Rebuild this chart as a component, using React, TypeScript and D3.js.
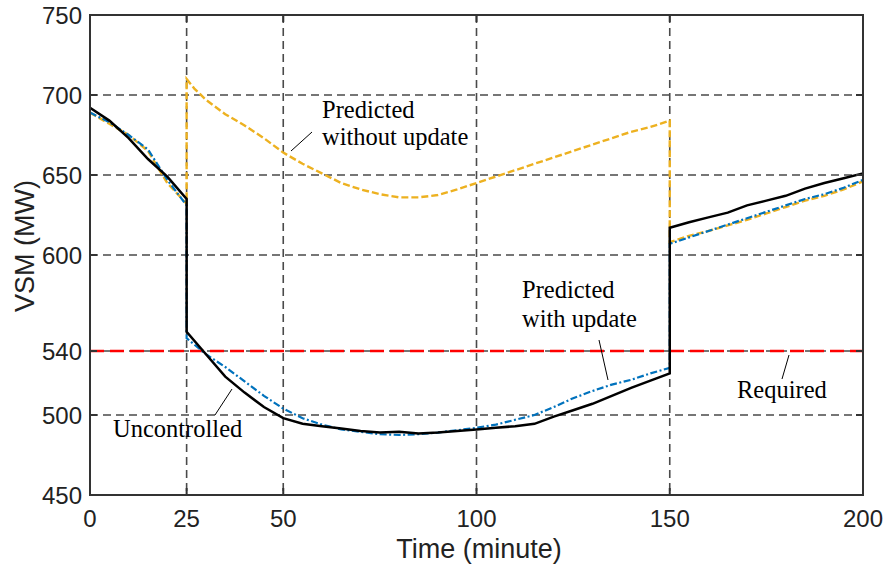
import React from "react";
import * as d3 from "d3";

const xTicks = [0, 25, 50, 100, 150, 200];
const yTicks = [450, 500, 540, 600, 650, 700, 750];
const xGrid = [25, 50, 100, 150];
const yGrid = [500, 540, 600, 650, 700];
const requiredLevel = 540;

const uncT = [0, 5, 10, 15, 20, 25, 25, 30, 35, 40, 45, 50, 55, 60, 65, 70, 75, 80, 85, 90, 95, 100, 105, 110, 115, 120, 125, 130, 135, 140, 145, 150, 150, 155, 160, 165, 170, 175, 180, 185, 190, 195, 200];
const uncV = [692, 684, 673, 660, 649, 635, 552, 538, 524, 514, 505, 498, 494.5, 493, 491.5, 490, 489, 489.5, 488.5, 489, 490, 491, 492, 493, 494.5, 499, 503, 507, 512, 517, 521.5, 526, 617, 620.5, 623.5, 626.5, 631, 634, 637, 641.5, 645, 648, 651];

const updT = [0, 5, 10, 15, 20, 25, 25, 30, 35, 40, 45, 50, 55, 60, 65, 70, 75, 80, 85, 90, 95, 100, 105, 110, 115, 120, 125, 130, 135, 140, 145, 150, 150, 155, 160, 165, 170, 175, 180, 185, 190, 195, 200];
const updV = [689, 683, 675, 666, 647, 631, 548, 538, 530, 521, 512, 504, 498, 494, 491, 489.5, 488, 487.5, 488, 489, 490.5, 492, 494, 497, 500, 505, 510.5, 515, 519, 522, 526, 529.5, 607, 611, 615, 619, 623, 627, 631, 635, 638, 642, 647];

const noUpdT = [0, 5, 10, 15, 20, 25, 25, 27, 30, 35, 40, 45, 50, 55, 60, 65, 70, 75, 80, 85, 90, 95, 100, 105, 110, 115, 120, 125, 130, 135, 140, 145, 150, 150, 155, 160, 165, 170, 175, 180, 185, 190, 195, 200];
const noUpdV = [689, 682, 675, 665, 645, 632, 710, 704, 697, 688, 681, 673, 664, 657, 651, 645, 641, 638, 636, 636, 637.5, 641, 645, 649, 653, 657, 661, 665, 669, 673, 677, 680, 684, 608, 612, 615, 618.5, 622, 626, 630, 634, 637, 641, 646];

const W = 888, H = 567;
const L = 90, R = 863, T = 15, B = 495;
const x = d3.scaleLinear().domain([0, 200]).range([L, R]);
const y = d3.scaleLinear().domain([450, 750]).range([B, T]);

const mk = (ts: number[], vs: number[]) =>
  d3.line<number>().x((_, i) => x(ts[i])).y((v) => y(v))(vs) || "";

const sans = "'Liberation Sans', Arial, sans-serif";
const serif = "'Liberation Serif', 'Times New Roman', serif";

export default function App() {
  return (
    <svg width={W} height={H} style={{ position: "absolute", left: 0, top: 0, background: "#fff" }}>
      <rect x={0} y={0} width={W} height={H} fill="#fff" />
      {xGrid.map((t) => (
        <line key={"xg" + t} x1={x(t)} x2={x(t)} y1={T} y2={B} stroke="#4a4a4a" strokeWidth={1.6} strokeDasharray="8,5" />
      ))}
      {yGrid.map((v) => (
        <line key={"yg" + v} x1={L} x2={R} y1={y(v)} y2={y(v)} stroke="#4a4a4a" strokeWidth={1.6} strokeDasharray="8,5" />
      ))}
      <line x1={L} x2={R} y1={y(requiredLevel)} y2={y(requiredLevel)} stroke="#ff0000" strokeWidth={2.4} strokeDasharray="14,6" />
      <path d={mk(noUpdT, noUpdV)} fill="none" stroke="#EDB120" strokeWidth={2.4} strokeDasharray="7,3" />
      <path d={mk(updT, updV)} fill="none" stroke="#0072BD" strokeWidth={2.2} strokeDasharray="7,2.5,2,2.5" />
      <path d={mk(uncT, uncV)} fill="none" stroke="#000" strokeWidth={2.5} />
      <rect x={L} y={T} width={R - L} height={B - T} fill="none" stroke="#333" strokeWidth={2} />
      {xTicks.map((t) => (
        <g key={"xt" + t}>
          <line x1={x(t)} x2={x(t)} y1={B} y2={B - 7} stroke="#333" strokeWidth={2} />
          <line x1={x(t)} x2={x(t)} y1={T} y2={T + 7} stroke="#333" strokeWidth={2} />
          <text x={x(t)} y={527} textAnchor="middle" fontFamily={sans} fontSize={24} fill="#222">{t}</text>
        </g>
      ))}
      {yTicks.map((v) => (
        <g key={"yt" + v}>
          <line x1={L} x2={L + 7} y1={y(v)} y2={y(v)} stroke="#333" strokeWidth={2} />
          <line x1={R} x2={R - 7} y1={y(v)} y2={y(v)} stroke="#333" strokeWidth={2} />
          <text x={82} y={y(v) + 8.5} textAnchor="end" fontFamily={sans} fontSize={24} fill="#222">{v}</text>
        </g>
      ))}
      <text x={479} y={558} textAnchor="middle" fontFamily={sans} fontSize={27} fill="#222">Time (minute)</text>
      <text transform="translate(34,246) rotate(-90)" textAnchor="middle" fontFamily={sans} fontSize={27} fill="#222">VSM (MW)</text>

      <g fontFamily={serif} fontSize={24.5} fill="#000">
        <text x={322} y={118}>Predicted</text>
        <text x={322} y={145}>without update</text>
        <text x={522} y={298}>Predicted</text>
        <text x={522} y={327}>with update</text>
        <text x={737} y={398}>Required</text>
        <text x={113} y={437}>Uncontrolled</text>
      </g>
      <g stroke="#000" strokeWidth={1}>
        <line x1={291} y1={151} x2={312} y2={132} />
        <line x1={599} y1={340} x2={608} y2={380} />
        <line x1={789} y1={355} x2={782} y2={379} />
        <line x1={215} y1={415} x2={232} y2={389} />
      </g>
    </svg>
  );
}
